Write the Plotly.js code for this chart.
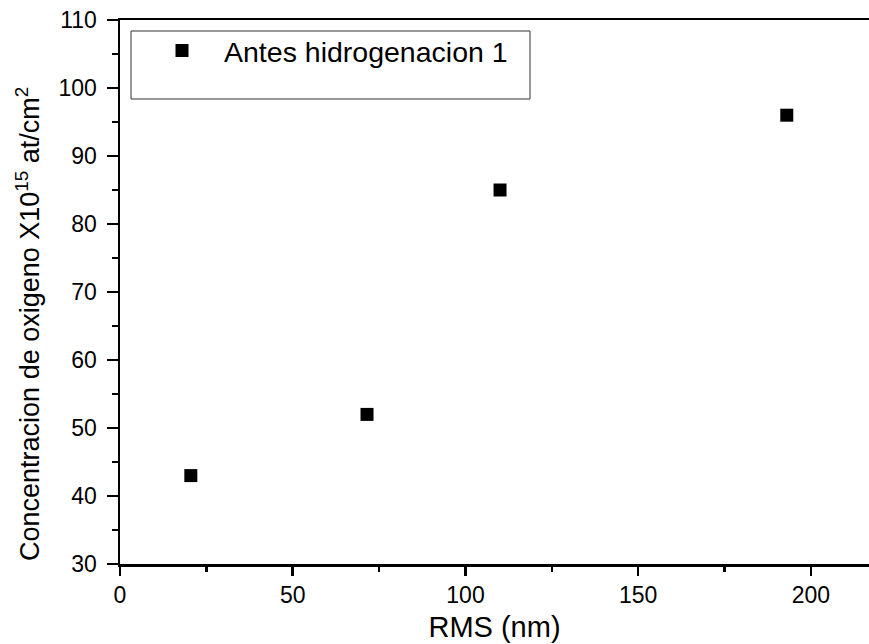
<!DOCTYPE html>
<html><head><meta charset="utf-8">
<script src="https://cdn.plot.ly/plotly-3.0.1.min.js"></script>
<style>html,body{margin:0;padding:0;background:#fff}</style>
</head><body>
<div id="chart" style="width:869px;height:644px"></div>
<script>
const seriesName = "Antes hidrogenacion 1";
const rms = [20.5, 71.5, 110, 193];
const oxigeno = [43, 52, 85, 96];
const xTicks = [0, 50, 100, 150, 200];
const yTicks = [30, 40, 50, 60, 70, 80, 90, 100, 110];
const xTitle = "RMS (nm)";
const yTitle = "Concentracion de oxigeno X10<sup>15</sup> at/cm<sup>2</sup>";

const font = "Liberation Sans, Arial, sans-serif";
const traces = [
  {x: rms, y: oxigeno, mode: "markers", type: "scatter", name: seriesName,
   marker: {symbol: "square", size: 13, color: "#000"}}
];
const layout = {
  width: 869, height: 644,
  margin: {l: 120, r: 0, t: 20, b: 80},
  paper_bgcolor: "#fff", plot_bgcolor: "#fff",
  font: {family: font, color: "#000", size: 23},
  showlegend: true,
  legend: {x: 0.0267, y: 0.99, xanchor: "left", yanchor: "top",
    borderwidth: 0, bgcolor: "rgba(255,255,255,0)",
    font: {family: font, size: 28.5, color: "#000"},
    itemwidth: 74},
  shapes: [{type: "rect", xref: "paper", yref: "paper",
    x0: 0.0147, x1: 0.5474, y0: 0.8548, y1: 0.9798,
    line: {color: "#333", width: 1}, fillcolor: "rgba(0,0,0,0)"}],
  annotations: [{text: yTitle, xref: "paper", yref: "paper", x: -0.123, y: 0.441,
    xanchor: "center", yanchor: "middle", textangle: -90, showarrow: false,
    font: {family: font, size: 27, color: "#000"}}],
  xaxis: {range: [0, 216.8], tickvals: xTicks, ticks: "outside", ticklen: 9, tickwidth: 2.5,
    tickcolor: "#000", showline: true, linewidth: 2.5, linecolor: "#000", mirror: true,
    showgrid: false, zeroline: false, tickfont: {size: 23},
    minor: {dtick: 25, ticks: "outside", ticklen: 5, tickwidth: 2.5, tickcolor: "#000", showgrid: false},
    title: {text: xTitle, font: {size: 29}, standoff: 10}},
  yaxis: {range: [30, 110], tickvals: yTicks, ticks: "outside", ticklen: 11, tickwidth: 2.5,
    tickcolor: "#000", showline: true, linewidth: 2.5, linecolor: "#000", mirror: false,
    showgrid: false, zeroline: false, tickfont: {size: 23}, ticklabelstandoff: 5,
    minor: {dtick: 5, ticks: "outside", ticklen: 6, tickwidth: 2.5, tickcolor: "#000", showgrid: false}}
};
Plotly.newPlot("chart", traces, layout, {displayModeBar: false, staticPlot: true});
</script>
</body></html>
